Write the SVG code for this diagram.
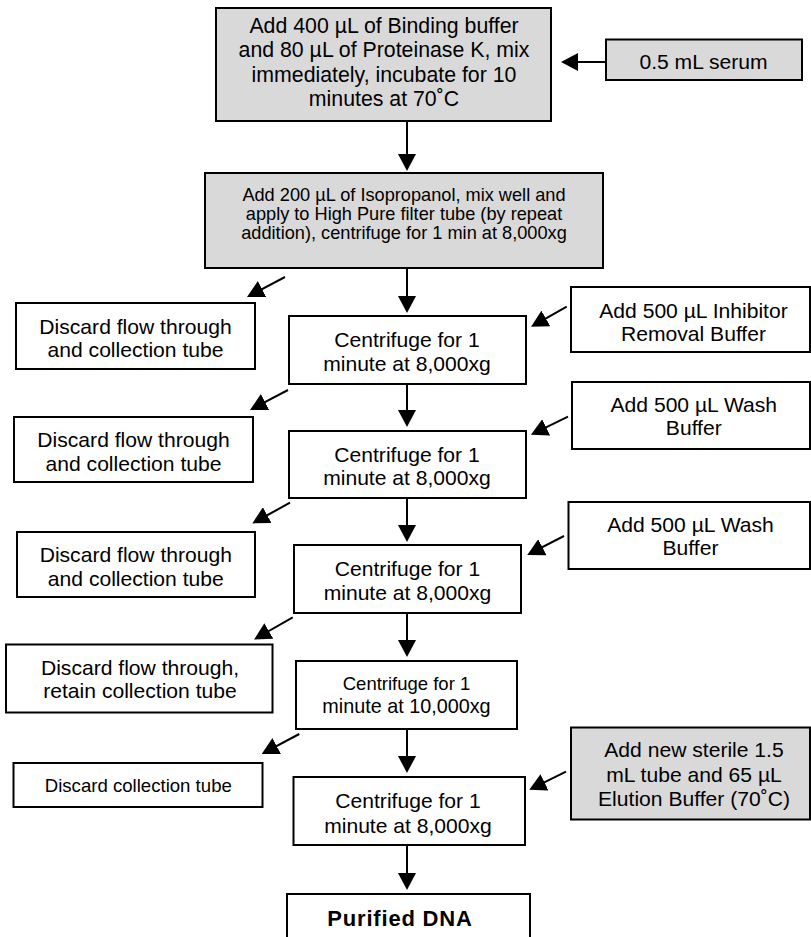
<svg xmlns="http://www.w3.org/2000/svg" width="811" height="937" viewBox="0 0 811 937">
<defs>
<style>
.box{fill:#fff;stroke:#000;stroke-width:2}
.grey{fill:#d9d9d9;stroke:#000;stroke-width:2}
text{font-family:"Liberation Sans",Arial,sans-serif;fill:#000;text-anchor:middle}
.t21{font-size:21.1px}
.t18{font-size:18.2px}
.conn{stroke:#000;stroke-width:2;fill:none;marker-end:url(#ah)}
</style>
<marker id="ah" markerUnits="userSpaceOnUse" markerWidth="17" markerHeight="18" refX="11" refY="9" orient="auto">
<path d="M0,0 L17,9 L0,18 z" fill="#000"/>
</marker>
</defs>
<g id="connectors">
<line class="conn" x1="407" y1="121" x2="407" y2="165"/>
<line class="conn" x1="407" y1="268" x2="407" y2="307"/>
<line class="conn" x1="407" y1="384" x2="407" y2="421"/>
<line class="conn" x1="407" y1="498" x2="407" y2="536"/>
<line class="conn" x1="407" y1="613" x2="407" y2="651"/>
<line class="conn" x1="407" y1="729" x2="407" y2="767"/>
<line class="conn" x1="407" y1="845" x2="407" y2="884"/>
<line class="conn" x1="605" y1="62" x2="567" y2="62"/>
<line class="conn" x1="285" y1="277" x2="252.3" y2="294.2"/>
<line class="conn" x1="288" y1="390" x2="255.3" y2="407.2"/>
<line class="conn" x1="290" y1="502.7" x2="257.6" y2="520.5"/>
<line class="conn" x1="292.7" y1="617.3" x2="259.3" y2="636.5"/>
<line class="conn" x1="299.3" y1="734" x2="267" y2="751.2"/>
<line class="conn" x1="566.7" y1="306.7" x2="536.3" y2="323.9"/>
<line class="conn" x1="568" y1="416.7" x2="536.3" y2="432.2"/>
<line class="conn" x1="564" y1="536" x2="532.6" y2="552.2"/>
<line class="conn" x1="566" y1="771.7" x2="534.6" y2="787.2"/>
</g>
<g id="n1">
<rect class="grey" x="216" y="8" width="335" height="113"/>
<text style="font-size:21.3px" x="384" y="33.3">Add 400 µL of Binding buffer</text>
<text style="font-size:21.3px" x="384" y="57.3">and 80 µL of Proteinase K, mix</text>
<text style="font-size:21.3px" x="384" y="81.7">immediately, incubate for 10</text>
<text style="font-size:21.3px" x="384" y="106">minutes at 70˚C</text>
</g>
<g id="serum">
<rect class="grey" x="606" y="39.5" width="196" height="40.5"/>
<text class="t21" x="703.5" y="69.3">0.5 mL serum</text>
</g>
<g id="n2">
<rect class="grey" x="205" y="173" width="398" height="95"/>
<text class="t18" x="404" y="200.5">Add 200 µL of Isopropanol, mix well and</text>
<text class="t18" x="404" y="219.5">apply to High Pure filter tube (by repeat</text>
<text class="t18" x="404" y="238.5">addition), centrifuge for 1 min at 8,000xg</text>
</g>
<g id="d1">
<rect class="box" x="16" y="303" width="239" height="66"/>
<text class="t21" x="135.5" y="334.3">Discard flow through</text>
<text class="t21" x="135.5" y="357">and collection tube</text>
</g>
<g id="c1">
<rect class="box" x="289" y="316" width="237" height="68"/>
<text class="t21" x="407" y="346.7">Centrifuge for 1</text>
<text class="t21" x="407" y="371">minute at 8,000xg</text>
</g>
<g id="inhib">
<rect class="box" x="571" y="287" width="239" height="65"/>
<text class="t21" x="693.5" y="318">Add 500 µL Inhibitor</text>
<text class="t21" x="693.5" y="341">Removal Buffer</text>
</g>
<g id="d2">
<rect class="box" x="14" y="417" width="239" height="65"/>
<text class="t21" x="133.5" y="446.7">Discard flow through</text>
<text class="t21" x="133.5" y="471">and collection tube</text>
</g>
<g id="c2">
<rect class="box" x="289" y="431" width="237" height="67"/>
<text class="t21" x="407" y="461.7">Centrifuge for 1</text>
<text class="t21" x="407" y="485.3">minute at 8,000xg</text>
</g>
<g id="wash1">
<rect class="box" x="572" y="382" width="238" height="67"/>
<text class="t21" x="693.8" y="411.7">Add 500 µL Wash</text>
<text class="t21" x="693.8" y="435">Buffer</text>
</g>
<g id="d3">
<rect class="box" x="17" y="532" width="238" height="65"/>
<text class="t21" x="135.8" y="561.7">Discard flow through</text>
<text class="t21" x="135.8" y="586">and collection tube</text>
</g>
<g id="c3">
<rect class="box" x="294" y="545" width="227" height="68"/>
<text class="t21" x="407.5" y="575.5">Centrifuge for 1</text>
<text class="t21" x="407.5" y="600">minute at 8,000xg</text>
</g>
<g id="wash2">
<rect class="box" x="568.5" y="502" width="241.5" height="67"/>
<text class="t21" x="690.5" y="531.7">Add 500 µL Wash</text>
<text class="t21" x="690.5" y="555">Buffer</text>
</g>
<g id="d4">
<rect class="box" x="6" y="644.5" width="266.5" height="68"/>
<text class="t21" x="140" y="675">Discard flow through,</text>
<text class="t21" x="140" y="698.3">retain collection tube</text>
</g>
<g id="c4">
<rect class="box" x="296" y="661" width="221" height="68"/>
<text style="font-size:18.5px" x="406.5" y="690">Centrifuge for 1</text>
<text style="font-size:19.8px" x="406.5" y="713.3">minute at 10,000xg</text>
</g>
<g id="d5">
<rect class="box" x="13.5" y="763" width="249" height="44"/>
<text style="font-size:18.6px" x="138.3" y="791.7">Discard collection tube</text>
</g>
<g id="c5">
<rect class="box" x="293.5" y="777" width="231.5" height="68"/>
<text class="t21" x="408" y="808">Centrifuge for 1</text>
<text class="t21" x="408" y="832.5">minute at 8,000xg</text>
</g>
<g id="elution">
<rect class="grey" x="571" y="727.5" width="239" height="92"/>
<text class="t21" x="694" y="756.7">Add new sterile 1.5</text>
<text class="t21" x="694" y="781.5">mL tube and 65 µL</text>
<text class="t21" x="694" y="805.5">Elution Buffer (70˚C)</text>
</g>
<g id="purified">
<rect class="box" x="287" y="894" width="243" height="60"/>
<text style="font-size:22px;font-weight:bold;letter-spacing:0.8px" x="400" y="925.7">Purified DNA</text>
</g>
</svg>
